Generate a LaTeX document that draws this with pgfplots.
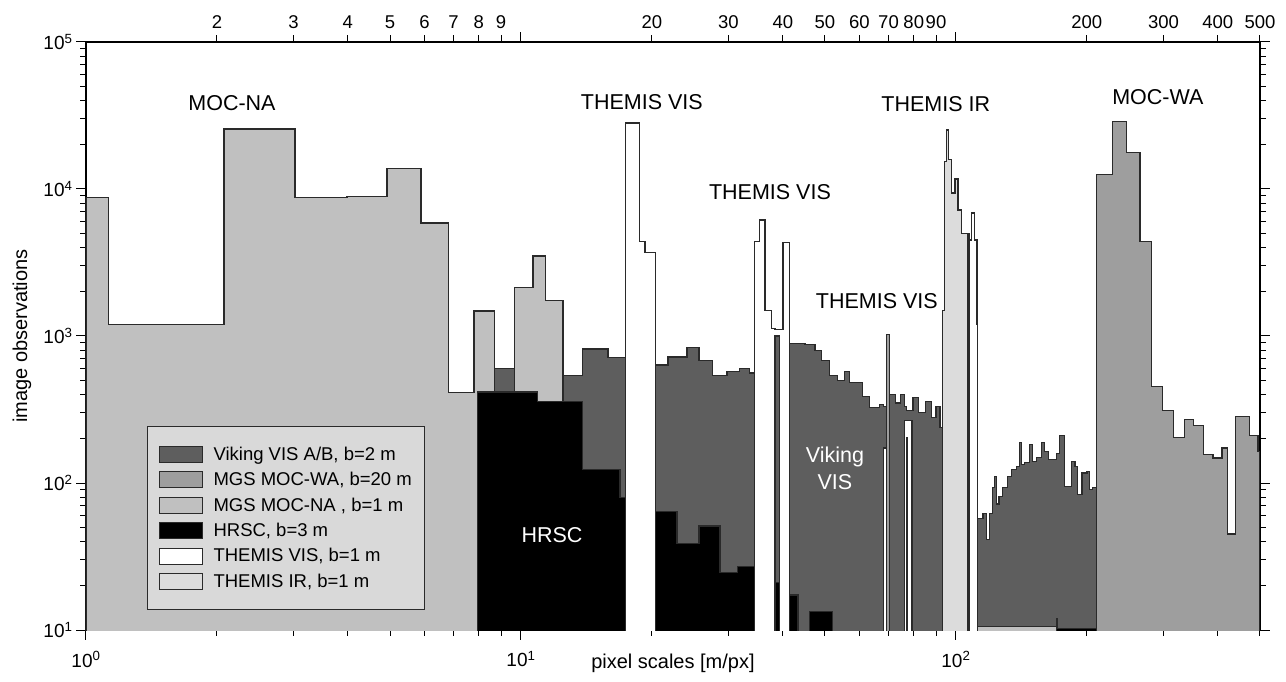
\documentclass[border=0pt]{standalone}
\usepackage{pgfplots}
\pgfplotsset{compat=1.18}
\usepackage{fontspec}
\setmainfont{Liberation Sans}
\definecolor{vik}{HTML}{5E5E5E}
\definecolor{mocwa}{HTML}{9E9E9E}
\definecolor{mocna}{HTML}{C0C0C0}
\definecolor{tir}{HTML}{DCDCDC}
\definecolor{outl}{HTML}{2A2A2A}
\definecolor{legbg}{HTML}{D9D9D9}
\newcommand{\fs}[1]{\fontsize{#1}{#1}\selectfont}
\begin{document}
\begin{tikzpicture}[x=1pt,y=1pt]
\useasboundingbox (-86,-51) rectangle (1200,630);
\begin{axis}[
  at={(0,0)}, anchor=south west,
  scale only axis, width=1174pt, height=588pt,
  xmode=log, ymode=log, xmin=1, xmax=500, ymin=10, ymax=100000,
  axis line style={line width=1.3pt, black},
  tick align=outside,
  xtick pos=bottom, ytick pos=both,
  xtick={1,10,100},
  xticklabels={10\textsuperscript{0},10\textsuperscript{1},10\textsuperscript{2}},
  minor xtick={2,3,4,5,6,7,8,9,20,30,40,50,60,70,80,90,200,300,400,500},
  ytick={10,100,1000,10000,100000},
  yticklabels={10\textsuperscript{1},10\textsuperscript{2},10\textsuperscript{3},10\textsuperscript{4},10\textsuperscript{5}},
  minor ytick={20,30,40,50,60,70,80,90,200,300,400,500,600,700,800,900,2000,3000,4000,5000,6000,7000,8000,9000,20000,30000,40000,50000,60000,70000,80000,90000},
  major tick length=10pt, minor tick length=6pt,
  every major tick/.append style={line width=1pt, black},
  every minor tick/.append style={line width=1pt, black},
  tick label style={font=\fs{19}},
  xticklabel style={yshift=-8pt},
  xlabel={pixel scales [m/px]},
  ylabel={image observations},
  xlabel style={font=\fs{20}, at={(axis description cs:0.5,0)}, anchor=base, yshift=-38pt},
  ylabel style={font=\fs{20}, at={(axis description cs:-0.0545,0.5)}, anchor=center},
  legend image code/.code={\draw[#1, draw=outl, line width=1pt] (0pt,-8pt) rectangle (43pt,8pt); \path (52pt,0pt);},
  legend style={at={(0.052,0.347)}, anchor=north west, fill=legbg, draw=outl, line width=1pt,
    font=\fs{18.5}, inner xsep=11pt, inner ysep=18.5pt, row sep=6.5pt},
  legend cell align=left,
  histo/.style={const plot, draw=outl, line width=1.1pt, forget plot},
]
% MOC-WA
\addplot[histo, fill=mocwa] coordinates {(210.9,12600) (229.6,28600) (247,17700) (265,4370) (282,456) (299,313) (317,205) (336,272) (351,246) (370,157) (390,148) (409,173) (422,45) (440,284) (474,210) (495,163) (500,163)} \closedcycle;
% Viking
\addplot[histo, fill=vik] coordinates {(8.71,600) (9.68,550) (12.49,535) (13.88,816) (15.85,710) (17.43,700) (20.43,635) (21.78,720) (24.08,840) (25.66,685) (27.63,535) (29.76,570) (31.87,605) (33.61,560) (34.5,560) (41.53,895) (44.98,870) (47.42,800) (49.2,685) (51.3,535) (53.55,500) (55.57,570) (57.06,480) (61.13,385) (63.44,325) (66.88,340) (68.3,330) (70.52,400) (72.5,350) (74.5,400) (76.3,330) (77.17,310) (79.67,380) (82,300) (85,360) (88,280) (90,330) (91.9,240) (93.35,1) (112.3,57) (115.4,62) (117.8,41) (119.7,62) (121.6,93) (122.9,110) (124.2,72) (125.6,81) (128.2,93) (131.7,110) (134.5,123) (138.1,130) (140.3,188) (141.8,134) (144.1,137) (147.9,183) (150.3,141) (153.5,150) (157.6,188) (160.2,163) (163.6,145) (170.7,159) (173.4,210) (178.1,95) (184.8,141) (187.8,130) (190.8,83) (194.9,117) (200.1,120) (203.2,90) (206.5,93) (210.9,93)} \closedcycle;
% MOC-NA
\addplot[histo, fill=mocna] coordinates {(1,8800) (1.124,1190) (2.076,25600) (3.024,8700) (3.981,8900) (4.92,13700) (5.89,5870) (6.83,410) (7.80,1480) (8.71,1) (9.68,2150) (10.66,3500) (11.41,1750) (12.49,1) (112.3,10.6) (170.7,10.6)} \closedcycle;
% HRSC
\addplot[histo, fill=black] coordinates {(7.96,416) (10.94,356) (13.88,124) (16.89,80) (17.43,1) (20.43,64) (22.84,39) (25.66,51) (28.68,24.5) (31.54,27) (34.5,1) (41.53,17.3) (43.35,1) (46.17,13.3) (52.15,1) (170.7,12) (171.4,10.3) (210.9,10.3)} \closedcycle;
% THEMIS VIS
\addplot[histo, fill=white] coordinates {(17.43,28100) (18.77,4400) (19.28,3700) (20.43,1) (34.5,4400) (35.43,6150) (36.4,1500) (37.76,1130) (38.37,1100) (40.03,4300) (41.53,1) (68.3,173) (69.4,1) (76.3,268) (79.25,1) (107.7,4500) (108.8,6870) (110.6,4500) (111.8,1190) (112.3,1190)} \closedcycle;
% THEMIS IR
\addplot[histo, fill=tir] coordinates {(93.35,1500) (94.35,15300) (95.35,25200) (96.37,15800) (97.9,9400) (99.5,11700) (101.1,7200) (103.2,5000) (107.7,5000)} \closedcycle;
% small extra bars on top
\addplot[histo, fill=mocwa] coordinates {(69.4,1020) (70.3,1020)} \closedcycle;
\addplot[histo, fill=vik] coordinates {(38.37,1000) (39.39,1000)} \closedcycle;
\addplot[histo, fill=black] coordinates {(38.37,21) (39.39,21)} \closedcycle;
\addplot[histo, fill=black] coordinates {(77.0,205) (77.35,205)} \closedcycle;
\addplot[histo, fill=vik] coordinates {(106.6,5000) (107.7,5000)} \closedcycle;
% labels
\node[font=\fs{21.5}] at (axis cs:2.166,38500) {MOC-NA};
\node[font=\fs{21.5}] at (axis cs:18.97,39100) {THEMIS VIS};
\node[font=\fs{21.5}] at (axis cs:37.37,9550) {THEMIS VIS};
\node[font=\fs{21.5}] at (axis cs:65.8,1730) {THEMIS VIS};
\node[font=\fs{21.5}] at (axis cs:89.9,37900) {THEMIS IR};
\node[font=\fs{21.5}] at (axis cs:291.3,42300) {MOC-WA};
\node[font=\fs{21.5}, text=white] at (axis cs:11.79,44.3) {HRSC};
\node[font=\fontsize{21.5}{27}\selectfont, text=white, align=center] at (axis cs:52.7,126) {Viking\\VIS};
% legend
\addlegendimage{fill=vik}
\addlegendentry{Viking VIS A/B, b=2 m}
\addlegendimage{fill=mocwa}
\addlegendentry{MGS MOC-WA, b=20 m}
\addlegendimage{fill=mocna}
\addlegendentry{MGS MOC-NA , b=1 m}
\addlegendimage{fill=black}
\addlegendentry{HRSC, b=3 m}
\addlegendimage{fill=white}
\addlegendentry{THEMIS VIS, b=1 m}
\addlegendimage{fill=tir}
\addlegendentry{THEMIS IR, b=1 m}
\end{axis}
\begin{axis}[
  at={(0,0)}, anchor=south west,
  scale only axis, width=1174pt, height=588pt,
  xmode=log, ymode=log, xmin=1, xmax=500, ymin=10, ymax=100000,
  axis x line*=top, axis y line=none,
  axis line style={line width=1.3pt, black, -},
  tick align=outside,
  xtick={2,3,4,5,6,7,8,9,20,30,40,50,60,70,80,90,200,300,400,500},
  xticklabels={2,3,4,5,6,7,8,9,20,30,40,50,60,70,80,90,200,300,400,500},
  minor xtick={},
  extra x ticks={10,100}, extra x tick labels={},
  extra x tick style={major tick length=10pt},
  major tick length=7pt,
  every major tick/.append style={line width=1pt, black},
  tick label style={font=\fs{18.5}},
  xticklabel style={yshift=3pt},
]
\end{axis}
\end{tikzpicture}
\end{document}
